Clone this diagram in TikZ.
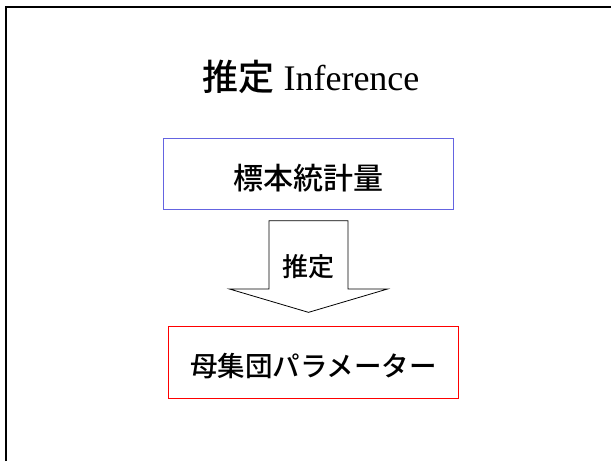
\documentclass[tikz,border=0pt]{standalone}
\usepackage{fontspec}
\setmainfont{Liberation Serif}
\newfontfamily\jp{Noto Sans CJK JP}[UprightFont=* Medium]
\usetikzlibrary{calc}
\definecolor{statblue}{RGB}{100,100,225}

\begin{document}
\begin{tikzpicture}[x=1pt,y=-1pt,
    box/.style={line width=1.2pt,minimum width=290pt,minimum height=71.5pt,inner sep=0pt,text depth=0pt}]
    \useasboundingbox (0,0) rectangle (611,461);
    % frame of the slide
    \draw[line width=2.5pt] (6,461) -- (6,7) -- (611,7);
    \node (title) at (311,77) {\fontsize{36}{40}\selectfont{\jp 推定} Inference};
    \node[box,draw=statblue,text height=30pt] (stat) at (308.5,174) {\jp\fontsize{30}{34}\selectfont 標本統計量};
    \node[box,draw=red,text height=27.5pt] (param) at (313.5,362.5) {\jp\fontsize{27.5}{32}\selectfont 母集団パラメーター};
    % block arrow
    \draw[fill=white,line width=0.8pt]
      (stat.south) ++(-39.5,10.3) -- ++(0,68.3) -- ++(-39.7,0) -- ++(79.2,23.4)
      -- ++(79.2,-23.4) -- ++(-39.7,0) -- ++(0,-68.3) -- cycle;
    \node (est) at ($(stat.south)+(0,56.5)$) {\jp\fontsize{26}{30}\selectfont 推定};
\end{tikzpicture}
\end{document}
